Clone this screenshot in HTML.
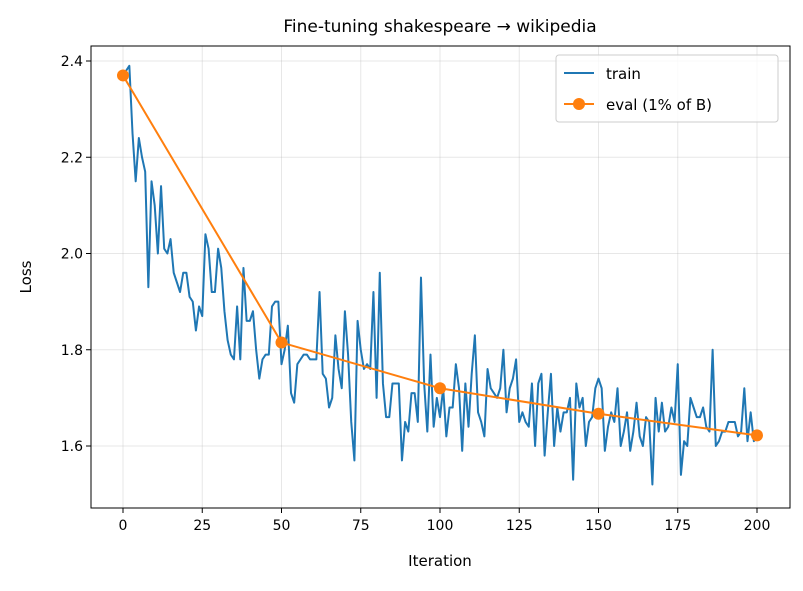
<!DOCTYPE html>
<html><head><meta charset="utf-8"><style>body{margin:0;background:#fff}svg text{font-family:"DejaVu Sans","Liberation Sans",sans-serif;fill:#000}</style></head>
<body>
<svg id="chart" width="803" height="586">
<text x="440" y="32" font-size="17" text-anchor="middle">Fine-tuning shakespeare → wikipedia</text>
<g id="grid"></g><g id="axes"></g><g id="series"></g>
<rect x="91" y="46" width="699" height="462" fill="none" stroke="#000" stroke-width="1"/>
<text x="440" y="566" font-size="15" text-anchor="middle">Iteration</text>
<text transform="translate(31,277) rotate(-90)" font-size="15" text-anchor="middle">Loss</text>
<g>
<rect x="556" y="55" width="222" height="67" rx="3" fill="#fff" fill-opacity="0.8" stroke="#ccc"/>
<line x1="564" y1="73" x2="594" y2="73" stroke="#1f77b4" stroke-width="2"/>
<text x="606" y="79" font-size="15">train</text>
<line x1="564" y1="104" x2="594" y2="104" stroke="#ff7f0e" stroke-width="2"/>
<circle cx="579" cy="104" r="6" fill="#ff7f0e"/>
<text x="606" y="110" font-size="15">eval (1% of B)</text>
</g>
</svg>
<script>
const trainLoss=[2.37,2.38,2.39,2.25,2.15,2.24,2.20,2.17,1.93,2.15,2.10,2.00,2.14,2.01,2.00,2.03,1.96,1.94,1.92,1.96,1.96,1.91,1.90,1.84,1.89,1.87,2.04,2.01,1.92,1.92,2.01,1.97,1.88,1.82,1.79,1.78,1.89,1.78,1.97,1.86,1.86,1.88,1.80,1.74,1.78,1.79,1.79,1.89,1.90,1.90,1.77,1.80,1.85,1.71,1.69,1.77,1.78,1.79,1.79,1.78,1.78,1.78,1.92,1.75,1.74,1.68,1.70,1.83,1.76,1.72,1.88,1.79,1.65,1.57,1.86,1.80,1.76,1.77,1.76,1.92,1.70,1.96,1.73,1.66,1.66,1.73,1.73,1.73,1.57,1.65,1.63,1.71,1.71,1.65,1.95,1.73,1.63,1.79,1.64,1.70,1.66,1.72,1.62,1.68,1.68,1.77,1.72,1.59,1.73,1.64,1.75,1.83,1.67,1.65,1.62,1.76,1.72,1.71,1.70,1.72,1.80,1.67,1.72,1.74,1.78,1.65,1.67,1.65,1.64,1.73,1.60,1.73,1.75,1.58,1.67,1.75,1.60,1.68,1.63,1.67,1.67,1.70,1.53,1.73,1.68,1.70,1.60,1.65,1.66,1.72,1.74,1.72,1.59,1.64,1.67,1.65,1.72,1.60,1.63,1.67,1.59,1.63,1.69,1.62,1.60,1.66,1.65,1.52,1.70,1.63,1.69,1.63,1.64,1.68,1.65,1.77,1.54,1.61,1.60,1.70,1.68,1.66,1.66,1.68,1.64,1.63,1.80,1.60,1.61,1.63,1.63,1.65,1.65,1.65,1.62,1.63,1.72,1.61,1.67,1.61,1.62];
const evalIters=[0,50,100,150,200];
const evalLoss=[2.37,1.815,1.72,1.667,1.622];
const xTicks=[0,25,50,75,100,125,150,175,200];
const yTicks=[1.6,1.8,2.0,2.2,2.4];
const NS='http://www.w3.org/2000/svg';
const X=v=>123+v*3.17, Y=v=>61+(2.4-v)*481.25;
function mk(t,a,p){const e=document.createElementNS(NS,t);for(const k in a)e.setAttribute(k,a[k]);document.getElementById(p).appendChild(e);return e;}
xTicks.forEach(t=>{
 const g=mk('line',{x1:X(t),x2:X(t),y1:46,y2:508,stroke:'#b0b0b0','stroke-opacity':0.3},'grid');
 
 
 mk('line',{x1:X(t),x2:X(t),y1:508,y2:513,stroke:'#000'},'axes');
 const l=mk('text',{x:X(t),y:530,'font-size':14,'text-anchor':'middle'},'axes');l.textContent=t;
 
 
});
yTicks.forEach(t=>{
 const g=mk('line',{x1:91,x2:790,y1:Y(t),y2:Y(t),stroke:'#b0b0b0','stroke-opacity':0.3},'grid');
 
 
 mk('line',{x1:86,x2:91,y1:Y(t),y2:Y(t),stroke:'#000'},'axes');
 const l=mk('text',{x:83,y:Y(t)+5,'font-size':14,'text-anchor':'end'},'axes');l.textContent=t.toFixed(1);
 
 
});
const tp=mk('polyline',{points:trainLoss.map((v,i)=>X(i)+','+Y(v)).join(' '),fill:'none',stroke:'#1f77b4','stroke-width':2,'stroke-linejoin':'round'},'series');


const ep=mk('polyline',{points:evalLoss.map((v,i)=>X(evalIters[i])+','+Y(v)).join(' '),fill:'none',stroke:'#ff7f0e','stroke-width':2},'series');


evalLoss.forEach((v,i)=>{
 const c=mk('circle',{cx:X(evalIters[i]),cy:Y(v),r:6,fill:'#ff7f0e'},'series');
 
 
});
</script>
</body></html>
